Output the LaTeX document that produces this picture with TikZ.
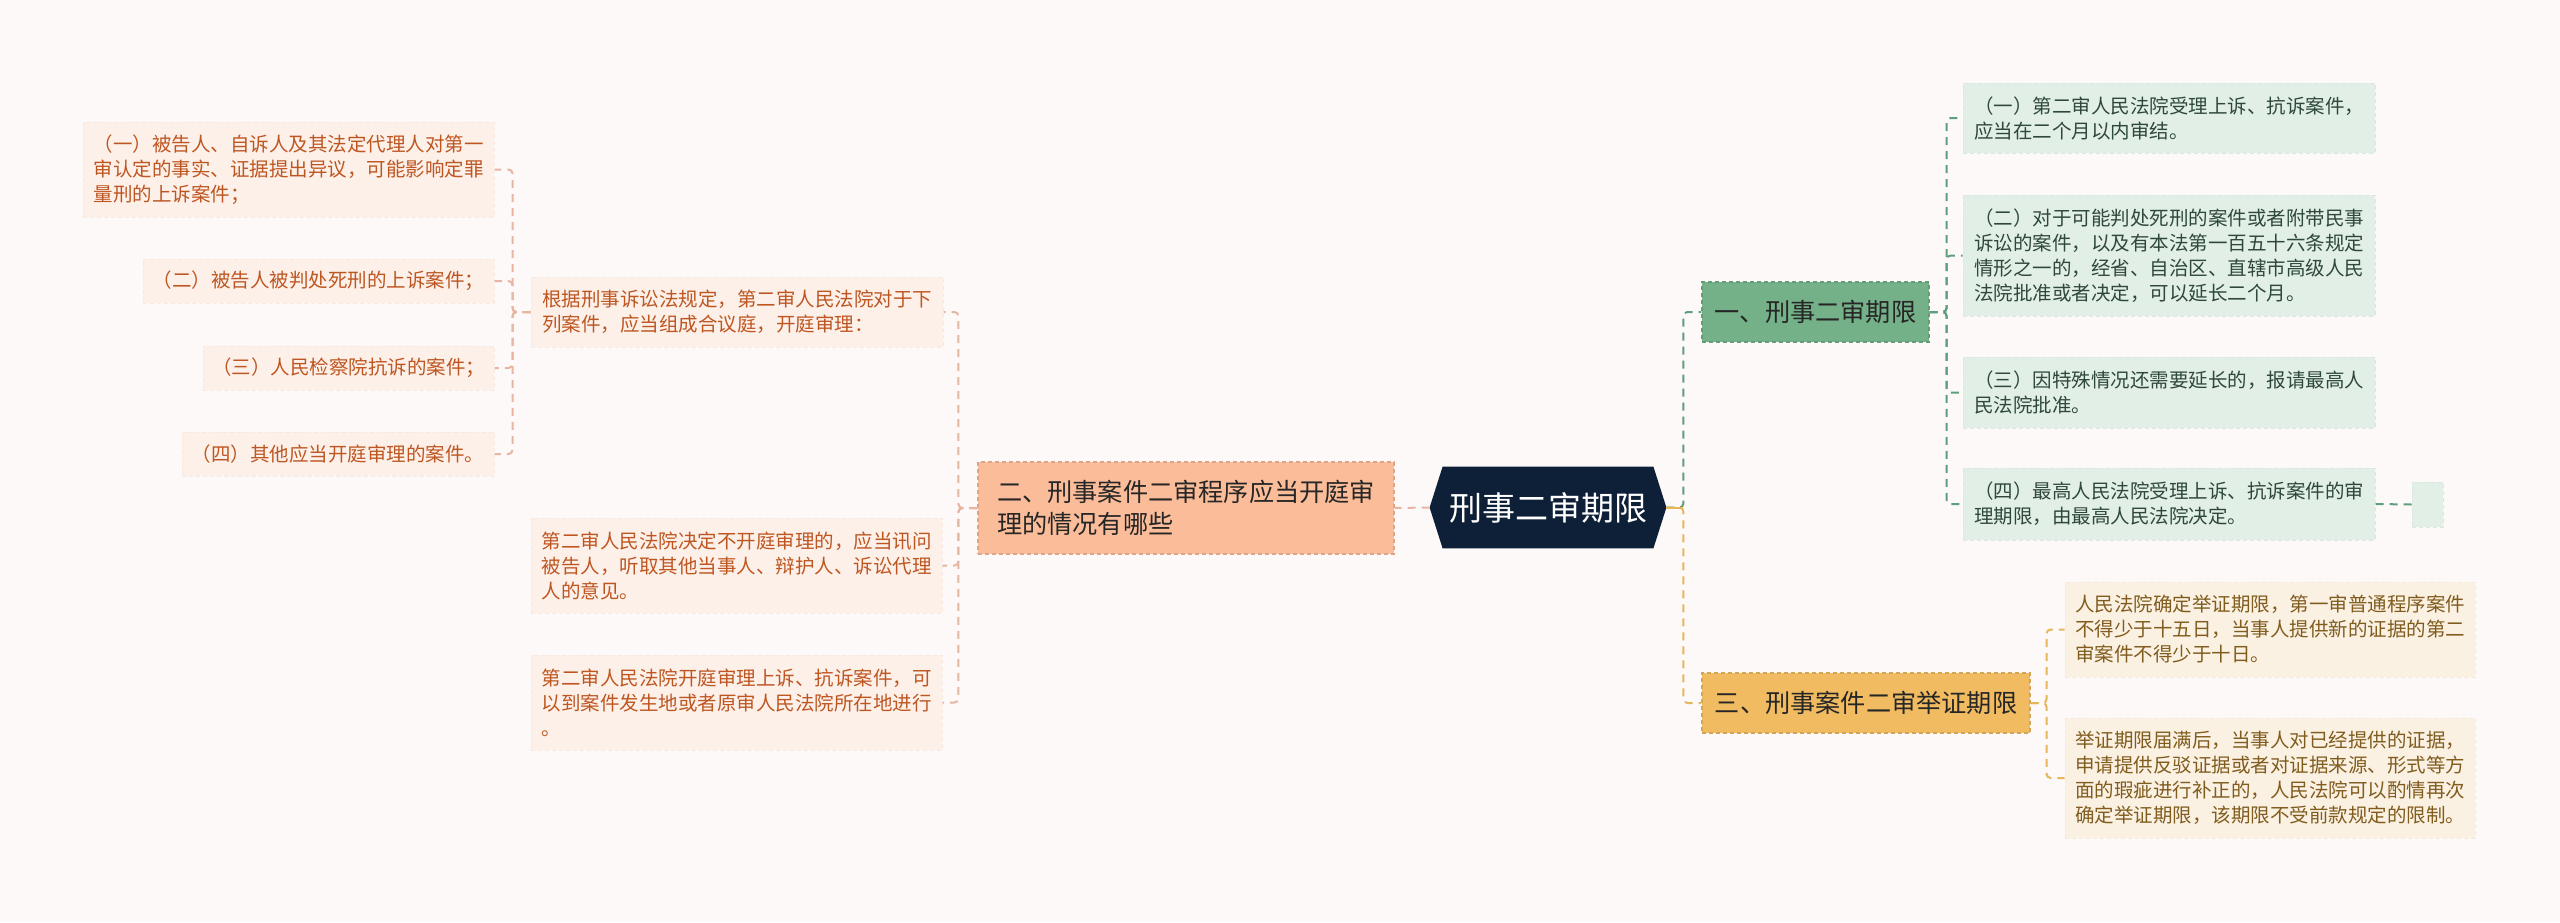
\documentclass[tikz,border=0pt]{standalone}
\usepackage{fontspec}
\setmainfont{Noto Sans CJK SC}
\usetikzlibrary{backgrounds}

\definecolor{bgcol}{RGB}{253,249,248}
\definecolor{cnavy}{RGB}{14,31,56}
\definecolor{lfill}{RGB}{253,240,232}
\definecolor{ltext}{RGB}{190,86,34}
\definecolor{lline}{RGB}{232,181,163}
\definecolor{sfill}{RGB}{251,188,153}
\definecolor{gfill}{RGB}{116,176,136}
\definecolor{gline}{RGB}{95,158,124}
\definecolor{rfill}{RGB}{226,239,230}
\definecolor{rtext}{RGB}{46,72,58}
\definecolor{yfill}{RGB}{241,187,98}
\definecolor{yline}{RGB}{232,182,90}
\definecolor{ybox}{RGB}{251,241,226}
\definecolor{ytext}{RGB}{128,92,30}

\begin{document}
\begin{tikzpicture}[x=0.5pt,y=-0.5pt,
  leaf/.style={draw=#1!97!black, fill=#1, dashed, dash pattern=on 2pt off 1.5pt,
    line width=0.5pt, inner sep=0pt, align=left,
    font=\fontsize{9.75}{12.5}\selectfont},
  lbox/.style={leaf=lfill, text=ltext},
  rbox/.style={leaf=rfill, text=rtext},
  ybox/.style={leaf=ybox, text=ytext},
  mainbox/.style={draw=#1!88!black, fill=#1, dashed, dash pattern=on 2pt off 1.5pt,
    line width=0.6pt, inner sep=0pt, align=left, text=black!85,
    font=\fontsize{12.6}{16}\selectfont},
  conn/.style={draw=#1, line width=1pt, dash pattern=on 4pt off 3pt, rounded corners=2pt}]

  \useasboundingbox (0,0) rectangle (2560,922);
  \begin{scope}[on background layer]
    \fill[bgcol] (0,0) rectangle (2560,922);
  \end{scope}

  % centre
  \node[minimum width=118pt, minimum height=40.5pt, text=white,
    font=\fontsize{16.5}{20}\selectfont] (C) at (1548,507.5) {刑事二审期限};
  \begin{scope}[on background layer]
    \fill[cnavy] (C.west) -- ([xshift=6.5pt]C.north west) -- ([xshift=-6.5pt]C.north east)
      -- (C.east) -- ([xshift=-6.5pt]C.south east) -- ([xshift=6.5pt]C.south west) -- cycle;
  \end{scope}

  % left branch
  \node[mainbox=sfill, minimum width=208pt, minimum height=46pt] (B2) at (1186,508)
    {二、刑事案件二审程序应当开庭审\\理的情况有哪些};

  \node[lbox, minimum width=206pt, minimum height=35pt] (M1) at (737,312)
    {根据刑事诉讼法规定，第二审人民法院对于下\\列案件，应当组成合议庭，开庭审理：};
  \node[lbox, minimum width=205.5pt, minimum height=47.5pt] (M2) at (736.5,565.5)
    {第二审人民法院决定不开庭审理的，应当讯问\\被告人，听取其他当事人、辩护人、诉讼代理\\人的意见。};
  \node[lbox, minimum width=205.5pt, minimum height=47.5pt] (M3) at (736.5,702.5)
    {第二审人民法院开庭审理上诉、抗诉案件，可\\以到案件发生地或者原审人民法院所在地进行\\。};

  \node[lbox, minimum width=205.5pt, minimum height=47.5pt] (L1) at (288.5,169.5)
    {（一）被告人、自诉人及其法定代理人对第一\\审认定的事实、证据提出异议，可能影响定罪\\量刑的上诉案件；};
  \node[lbox, minimum width=175.5pt, minimum height=22pt] (L2) at (318.5,281)
    {（二）被告人被判处死刑的上诉案件；};
  \node[lbox, minimum width=145.5pt, minimum height=22pt] (L3) at (348.5,368)
    {（三）人民检察院抗诉的案件；};
  \node[lbox, minimum width=156pt, minimum height=22pt] (L4) at (338,454)
    {（四）其他应当开庭审理的案件。};

  % right branches
  \node[mainbox=gfill, minimum width=113.5pt, minimum height=30pt] (B1) at (1815.5,312)
    {一、刑事二审期限};
  \node[mainbox=yfill, minimum width=164pt, minimum height=30pt] (B3) at (1866,703)
    {三、刑事案件二审举证期限};

  \node[rbox, minimum width=206pt, minimum height=35pt] (R1) at (2169,118)
    {（一）第二审人民法院受理上诉、抗诉案件，\\应当在二个月以内审结。};
  \node[rbox, minimum width=206pt, minimum height=60.5pt] (R2) at (2169,255.5)
    {（二）对于可能判处死刑的案件或者附带民事\\诉讼的案件，以及有本法第一百五十六条规定\\情形之一的，经省、自治区、直辖市高级人民\\法院批准或者决定，可以延长二个月。};
  \node[rbox, minimum width=206pt, minimum height=35.5pt] (R3) at (2169,392.5)
    {（三）因特殊情况还需要延长的，报请最高人\\民法院批准。};
  \node[rbox, minimum width=206pt, minimum height=36pt] (R4) at (2169,504)
    {（四）最高人民法院受理上诉、抗诉案件的审\\理期限，由最高人民法院决定。};
  \node[rbox, minimum width=15.5pt, minimum height=22.5pt] (R4x) at (2427.5,504.5) {};

  \node[ybox, minimum width=205pt, minimum height=47.5pt] (Y1) at (2270,629.5)
    {人民法院确定举证期限，第一审普通程序案件\\不得少于十五日，当事人提供新的证据的第二\\审案件不得少于十日。};
  \node[ybox, minimum width=205pt, minimum height=60pt] (Y2) at (2270,778)
    {举证期限届满后，当事人对已经提供的证据，\\申请提供反驳证据或者对证据来源、形式等方\\面的瑕疵进行补正的，人民法院可以酌情再次\\确定举证期限，该期限不受前款规定的限制。};

  % connectors
  \draw[conn=lline] (C.west) -- (B2.east);
  \foreach \m in {M1,M2,M3}
    \draw[conn=lline] (B2.west) -- ++(-19,0) |- (\m.east);
  \foreach \l in {L1,L2,L3,L4}
    \draw[conn=lline] (M1.west) -- ++(-18,0) |- (\l.east);

  \draw[conn=gline] (C.east) -- ++(17,0) |- (B1.west);
  \draw[conn=yline] (C.east) -- ++(17,0) |- (B3.west);
  \draw[yline, line width=1pt] (C.east) -- ++(17,0);
  \foreach \r in {R1,R2,R3,R4}
    \draw[conn=gline] (B1.east) -- ++(17,0) |- (\r.west);
  \draw[conn=gline] (R4.east) -- (R4x.west);
  \foreach \y in {Y1,Y2}
    \draw[conn=yline] (B3.east) -- ++(16,0) |- (\y.west);

\end{tikzpicture}
\end{document}
